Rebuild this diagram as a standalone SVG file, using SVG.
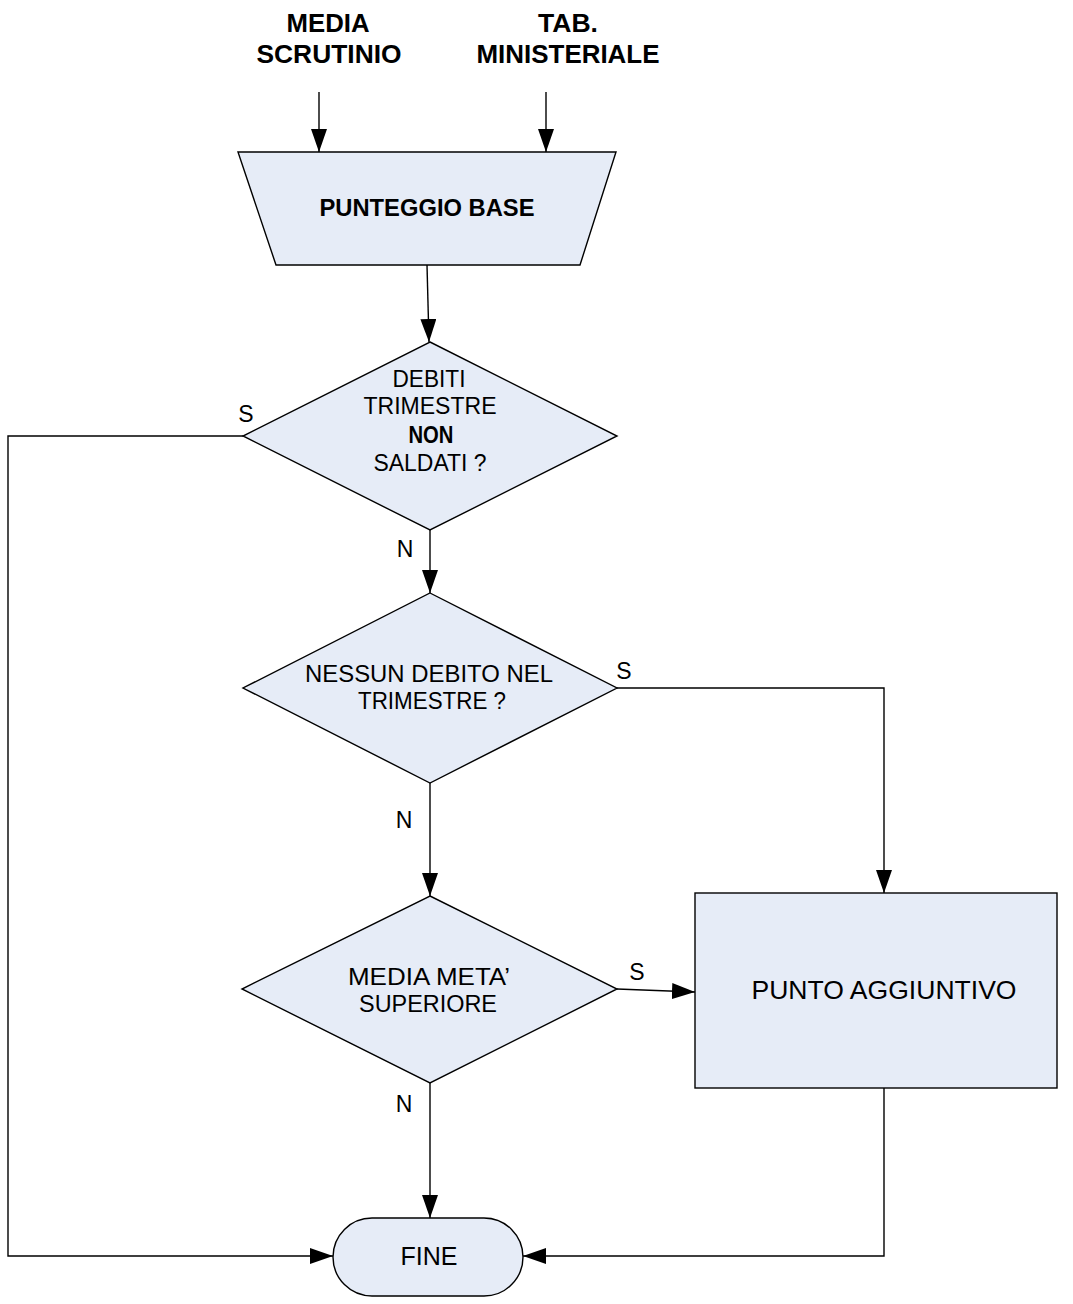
<svg xmlns="http://www.w3.org/2000/svg" width="1073" height="1304" viewBox="0 0 1073 1304">
<style>
.shape{fill:#E6ECF7;stroke:#000;stroke-width:1.4}
.conn{fill:none;stroke:#000;stroke-width:1.4}
text{font-family:"Liberation Sans",Arial,sans-serif;fill:#000;text-anchor:middle}
.b{font-weight:bold}
.t{font-size:23px}
.lbl{font-size:23px}
</style>
<defs>
<marker id="arr" markerUnits="userSpaceOnUse" markerWidth="24" markerHeight="18" refX="23" refY="8" orient="auto">
<path d="M0,0 L23,8 L0,16 Z" fill="#000"/>
</marker>
</defs>
<rect width="1073" height="1304" fill="#fff"/>
<g id="input-media">
<text class="b" x="328" y="32" font-size="25" textLength="83" lengthAdjust="spacingAndGlyphs">MEDIA</text>
<text class="b" x="329" y="63" font-size="25" textLength="145" lengthAdjust="spacingAndGlyphs">SCRUTINIO</text>
</g>
<g id="input-tab">
<text class="b" x="568" y="32" font-size="25" textLength="60" lengthAdjust="spacingAndGlyphs">TAB.</text>
<text class="b" x="568" y="63" font-size="25" textLength="183" lengthAdjust="spacingAndGlyphs">MINISTERIALE</text>
</g>
<g id="punteggio-base">
<polygon class="shape" points="238,152 616,152 580,265 276,265"/>
<text class="b" x="427" y="216" font-size="23" textLength="215" lengthAdjust="spacingAndGlyphs">PUNTEGGIO BASE</text>
</g>
<g id="dec-debiti">
<polygon class="shape" points="430,342 617,436 430,530 243,436"/>
<text class="t" x="429" y="387" textLength="73" lengthAdjust="spacingAndGlyphs">DEBITI</text>
<text class="t" x="430" y="414" textLength="133" lengthAdjust="spacingAndGlyphs">TRIMESTRE</text>
<text class="t b" x="431" y="443" textLength="45" lengthAdjust="spacingAndGlyphs">NON</text>
<text class="t" x="430" y="471" textLength="113" lengthAdjust="spacingAndGlyphs">SALDATI ?</text>
</g>
<g id="dec-nessun">
<polygon class="shape" points="430,593 617,688 430,783 243,688"/>
<text class="t" x="429" y="682" textLength="248" lengthAdjust="spacingAndGlyphs">NESSUN DEBITO NEL</text>
<text class="t" x="432" y="709" textLength="148" lengthAdjust="spacingAndGlyphs">TRIMESTRE ?</text>
</g>
<g id="dec-media">
<polygon class="shape" points="430,896 617,989 430,1083 242,989"/>
<text class="t" x="429" y="985" textLength="162" lengthAdjust="spacingAndGlyphs">MEDIA META’</text>
<text class="t" x="428" y="1012" textLength="138" lengthAdjust="spacingAndGlyphs">SUPERIORE</text>
</g>
<g id="punto-aggiuntivo">
<rect class="shape" x="695" y="893" width="362" height="195"/>
<text x="884" y="999" font-size="25" textLength="265" lengthAdjust="spacingAndGlyphs">PUNTO AGGIUNTIVO</text>
</g>
<g id="fine">
<rect class="shape" x="333" y="1218" width="190" height="78" rx="39" ry="39"/>
<text x="429" y="1265" font-size="25" textLength="57" lengthAdjust="spacingAndGlyphs">FINE</text>
</g>
<g id="connectors">
<line class="conn" x1="319" y1="92" x2="319" y2="152" marker-end="url(#arr)"/>
<line class="conn" x1="546" y1="92" x2="546" y2="152" marker-end="url(#arr)"/>
<line class="conn" x1="427" y1="265" x2="429" y2="342" marker-end="url(#arr)"/>
<line class="conn" x1="430" y1="530" x2="430" y2="593" marker-end="url(#arr)"/>
<line class="conn" x1="430" y1="783" x2="430" y2="896" marker-end="url(#arr)"/>
<line class="conn" x1="430" y1="1083" x2="430" y2="1218" marker-end="url(#arr)"/>
<polyline class="conn" points="243,436 8,436 8,1256 333,1256" marker-end="url(#arr)"/>
<polyline class="conn" points="617,688 884,688 884,893" marker-end="url(#arr)"/>
<line class="conn" x1="617" y1="989" x2="695" y2="992" marker-end="url(#arr)"/>
<polyline class="conn" points="884,1088 884,1256 523,1256" marker-end="url(#arr)"/>
<text class="lbl" x="246" y="422">S</text>
<text class="lbl" x="405" y="557">N</text>
<text class="lbl" x="624" y="679">S</text>
<text class="lbl" x="404" y="828">N</text>
<text class="lbl" x="637" y="980">S</text>
<text class="lbl" x="404" y="1112">N</text>
</g>
</svg>
